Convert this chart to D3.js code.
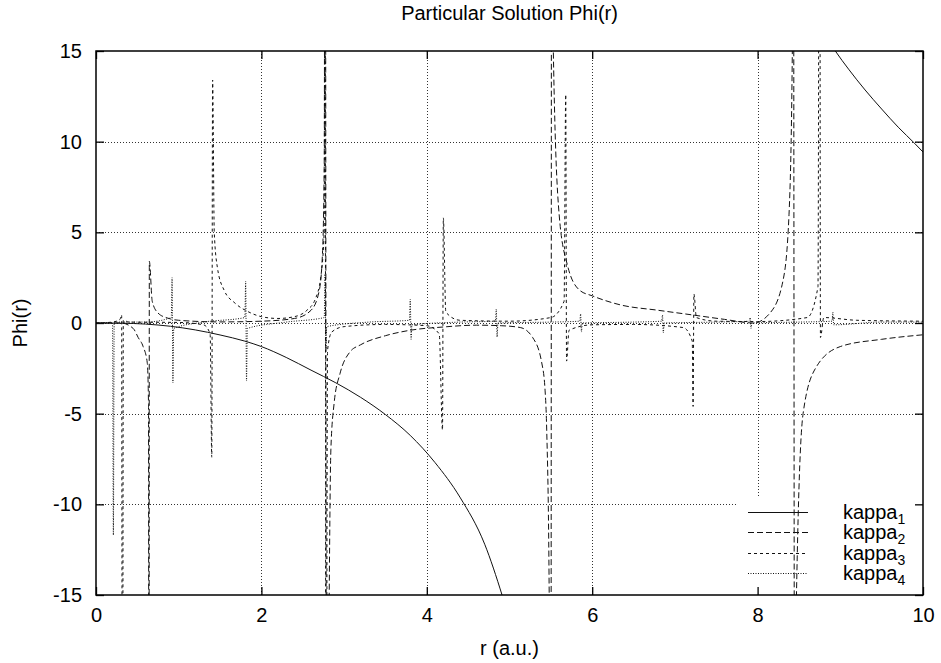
<!DOCTYPE html>
<html lang="en">
<head>
<meta charset="UTF-8">
<title>Particular Solution Phi(r)</title>
<script src="https://cdn.jsdelivr.net/npm/d3@7"></script>
<style>
  body { margin: 0; background: #fff; }
  text { font-family: "Liberation Sans", Arial, Helvetica, sans-serif; fill: #000; }
</style>
</head>
<body>
<script>
// tick values
var xTicks = [0, 2, 4, 6, 8, 10];
var yTicks = [-15, -10, -5, 0, 5, 10, 15];
var seriesNames = ["kappa1", "kappa2", "kappa3", "kappa4"];

// [r, Phi] (samples on both sides of every pole)
var kappa1 = [[0,0],[0.3,-0.01],[0.6,-0.06],[0.9,-0.18],[1.2,-0.38],[1.5,-0.66],[1.8,-1.0],
  [2.0,-1.3],[2.3,-1.9],[2.6,-2.6],[2.9,-3.3],[3.2,-4.1],[3.5,-5.05],[3.8,-6.2],
  [4.1,-7.7],[4.4,-9.6],[4.7,-12.2],[4.91,-15],[5.1,-18]];
var kappa1b = [[8.8,16],[8.94,15],[9.1,14.0],[9.3,12.85],[9.5,11.8],[9.7,10.8],[9.9,9.9],[10,9.43]];

var kappa2 = [[0,0],[0.3,0],[0.45,-0.3],[0.51,-0.8],[0.57,-1.3],[0.62,-2.2],[0.635,-4.5],
  [0.64,-40],[0.645,3.4],[0.68,1.2],[0.75,0.55],[0.86,0.28],[1.0,0.15],[1.5,0.06],[2.0,0.1],
  [2.4,0.25],[2.6,0.7],[2.7,1.8],[2.74,4],[2.76,9],[2.77,40],[2.79,-40],[2.82,-15],[2.84,-7],
  [2.88,-4.4],[2.95,-2.8],[3.07,-1.6],[3.2,-1.2],[3.5,-0.7],[3.8,-0.4],[4.2,-0.22],
  [4.6,-0.12],[4.9,-0.15],[5.13,-0.25],[5.28,-0.8],[5.39,-2.2],[5.43,-3.7],[5.45,-5.9],
  [5.48,-15],[5.5,-40],[5.51,40],[5.53,15],[5.6,6],[5.7,3.2],[5.85,1.8],[6.0,1.5],
  [6.34,1.0],[6.8,0.7],[7.22,0.44],[7.6,0.2],[7.95,0],[8.15,0.55],[8.31,2.4],[8.38,6],
  [8.42,15],[8.43,40],[8.45,-40],[8.47,-15],[8.55,-5],[8.7,-2.5],[9.0,-1.3],[9.5,-0.9],[10,-0.65]];

var kappa3 = [[0,0],[0.2,0.05],[0.29,0.2],[0.31,0.45],[0.32,-40],[0.33,0.15],[0.4,0.05],
  [1.0,0.03],[1.3,-0.1],[1.38,-0.6],[1.40,-7.4],[1.41,13.4],[1.43,5],[1.47,3.0],[1.55,1.8],
  [1.68,1.1],[1.85,0.6],[2.0,0.35],[2.2,0.25],[2.4,0.35],[2.55,0.7],[2.65,1.3],[2.72,2.6],
  [2.76,5.2],[2.77,40],[2.78,-40],[2.80,-1.5],[2.85,-0.5],[3.0,-0.2],[3.5,-0.08],[4.0,-0.15],
  [4.15,-0.6],[4.19,-5.9],[4.20,5.8],[4.23,0.6],[4.4,0.15],[5.0,0.1],[5.5,0.3],[5.66,1.2],
  [5.68,12.6],[5.69,-2.1],[5.72,-0.4],[6.0,-0.1],[6.5,-0.08],[7.1,-0.25],[7.21,-1.0],
  [7.22,-4.6],[7.23,1.6],[7.26,0.3],[7.5,0.1],[8.0,0.08],[8.6,0.3],[8.73,2],[8.75,40],
  [8.76,-0.8],[8.8,0.3],[9.2,0.15],[10,0.1]];

var kappa4 = [[0,0],[0.19,0.03],[0.2,0.05],[0.21,-11.7],[0.22,0.05],[0.6,0.05],[0.91,0.3],
  [0.92,2.5],[0.93,-3.3],[0.94,-0.3],[1.3,0.05],[1.80,0.3],[1.81,2.3],[1.82,-3.2],[1.83,-0.3],
  [2.3,0.05],[2.76,0.3],[2.77,2.7],[2.78,-1.5],[2.79,-0.2],[3.3,0.05],[3.79,0.15],[3.80,1.3],
  [3.81,-0.9],[3.82,-0.1],[4.4,0.05],[4.83,0.1],[4.84,0.77],[4.85,-0.77],[4.86,0],[5.5,0.05],
  [5.85,0.1],[5.86,0.5],[5.87,-0.5],[5.88,0],[6.5,0.05],[6.84,0.1],[6.85,0.44],[6.86,-0.55],
  [6.87,0],[7.5,0.05],[7.9,0.1],[7.91,0.3],[7.92,-0.3],[7.93,0],[8.5,0.05],[8.9,0.1],
  [8.91,0.6],[8.92,-0.1],[9.5,0.05],[10,0.05]];

var W = 941, H = 663;
var pL = 96, pR = 923, pT = 51, pB = 595;
var key = {x0: 738, y0: 497, x1: 923, y1: 595};

var svg = d3.select("body").append("svg")
    .attr("width", W).attr("height", H);

var x = d3.scaleLinear().domain([0, 10]).range([pL, pR]);
var y = d3.scaleLinear().domain([-15, 15]).range([pB, pT]);

var defs = svg.append("defs");
defs.append("clipPath").attr("id", "plotclip")
  .append("rect").attr("x", pL).attr("y", pT)
  .attr("width", pR - pL).attr("height", pB - pT);
var mask = defs.append("mask").attr("id", "keymask");
mask.append("rect").attr("x", 0).attr("y", 0).attr("width", W).attr("height", H).attr("fill", "#fff");
mask.append("rect").attr("x", key.x0).attr("y", key.y0)
  .attr("width", key.x1 - key.x0).attr("height", key.y1 - key.y0).attr("fill", "#000");

// grid
var grid = svg.append("g").attr("mask", "url(#keymask)")
  .attr("stroke", "#333").attr("stroke-width", 1).attr("stroke-dasharray", "1,2");
grid.selectAll("line.gx").data(xTicks.slice(1, -1)).enter().append("line")
  .attr("x1", function(d) { return Math.round(x(d)) + 0.5; })
  .attr("x2", function(d) { return Math.round(x(d)) + 0.5; })
  .attr("y1", pT).attr("y2", pB);
grid.selectAll("line.gy").data(yTicks.slice(1, -1)).enter().append("line")
  .attr("y1", function(d) { return Math.round(y(d)) + 0.5; })
  .attr("y2", function(d) { return Math.round(y(d)) + 0.5; })
  .attr("x1", pL).attr("x2", pR);

// axes with inward ticks, mirrored
function styleAxis(g) {
  g.selectAll("text").style("font-size", "20px").attr("font-family", null);
  g.select(".domain").remove();
  g.selectAll("line").attr("stroke", "#000").attr("stroke-width", 1.3);
}
var plain = function(d) { return String(d); };
svg.append("g").attr("transform", "translate(0," + pB + ")")
  .call(d3.axisBottom(x).tickValues(xTicks).tickSize(-8).tickPadding(13).tickFormat(plain))
  .call(styleAxis);
svg.append("g").attr("transform", "translate(0," + pT + ")")
  .call(d3.axisTop(x).tickValues(xTicks).tickSize(-8).tickFormat(""))
  .call(styleAxis);
svg.append("g").attr("transform", "translate(" + pL + ",0)")
  .call(d3.axisLeft(y).tickValues(yTicks).tickSize(-8).tickPadding(14).tickFormat(plain))
  .call(styleAxis);
svg.append("g").attr("transform", "translate(" + pR + ",0)")
  .call(d3.axisRight(y).tickValues(yTicks).tickSize(-8).tickFormat(""))
  .call(styleAxis);

// curves
var line = d3.line()
  .x(function(d) { return x(d[0]); })
  .y(function(d) { return y(d[1]); })
  .curve(d3.curveMonotoneX);

var styles = [
  {data: [kappa1, kappa1b], dash: null},
  {data: [kappa2], dash: "6,3"},
  {data: [kappa3], dash: "3,3"},
  {data: [kappa4], dash: "1,1.5"}
];
var curves = svg.append("g").attr("clip-path", "url(#plotclip)");
styles.forEach(function(s) {
  s.data.forEach(function(pts) {
    curves.append("path").datum(pts)
      .attr("d", line)
      .attr("fill", "none")
      .attr("stroke", "#111")
      .attr("stroke-width", 1)
      .attr("stroke-dasharray", s.dash);
  });
});

// border
svg.append("rect").attr("x", pL).attr("y", pT)
  .attr("width", pR - pL).attr("height", pB - pT)
  .attr("fill", "none").attr("stroke", "#000").attr("stroke-width", 1.5);

// key
var keyRows = [512, 532, 553, 573];
var keyG = svg.append("g");
seriesNames.forEach(function(name, i) {
  keyG.append("line")
    .attr("x1", 748).attr("x2", 808)
    .attr("y1", keyRows[i] + 0.5).attr("y2", keyRows[i] + 0.5)
    .attr("stroke", "#111").attr("stroke-width", 1)
    .attr("stroke-dasharray", styles[i].dash);
  var t = keyG.append("text").attr("x", 843).attr("y", keyRows[i] + 7)
    .style("font-size", "20px");
  t.append("tspan").text("kappa");
  t.append("tspan").attr("dy", 5).style("font-size", "14px").text(String(i + 1));
});

// titles
svg.append("text").attr("x", (pL + pR) / 2).attr("y", 20)
  .attr("text-anchor", "middle").style("font-size", "20px")
  .text("Particular Solution Phi(r)");
svg.append("text").attr("x", (pL + pR) / 2).attr("y", 655)
  .attr("text-anchor", "middle").style("font-size", "20px")
  .text("r (a.u.)");
svg.append("text").attr("transform", "translate(27," + y(0) + ") rotate(-90)")
  .attr("text-anchor", "middle").style("font-size", "20px")
  .text("Phi(r)");
</script>
</body>
</html>
